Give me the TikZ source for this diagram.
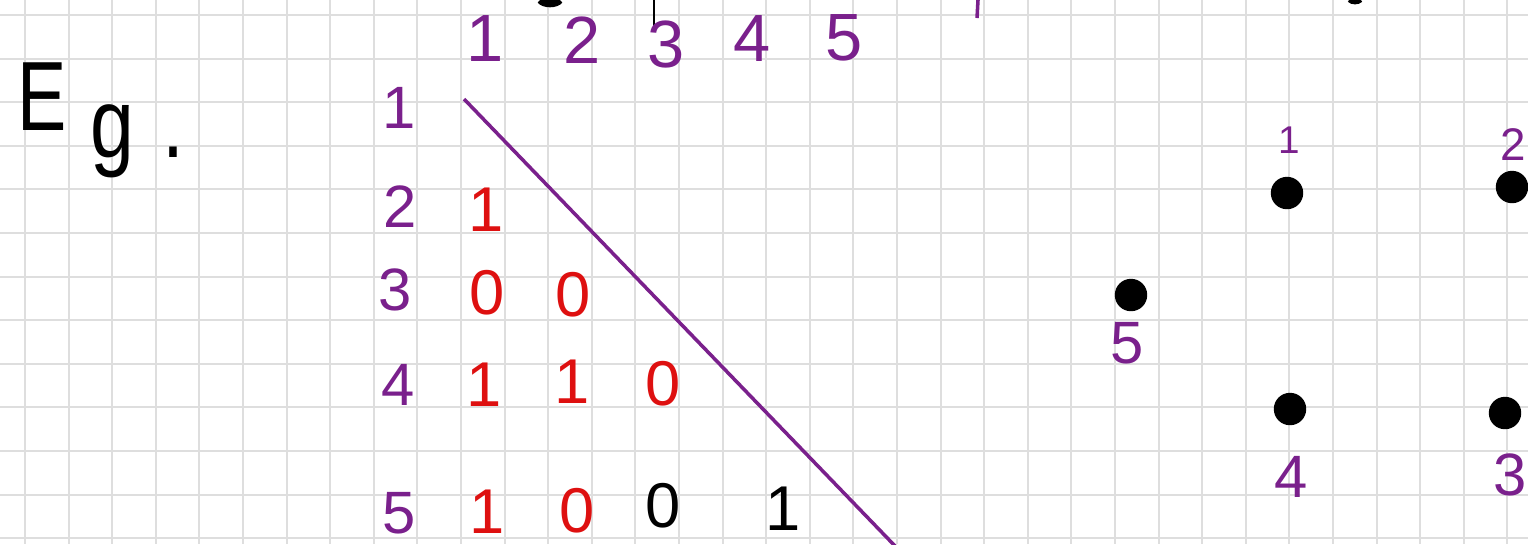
\documentclass[tikz,border=0pt]{standalone}
\usepackage{fontspec}
\setmainfont{Liberation Sans}
\usepackage{xcolor}
\usepackage{tikz}
\definecolor{gridgray}{RGB}{222,222,222}
\definecolor{numpurple}{RGB}{122,32,140}
\definecolor{entred}{RGB}{222,16,16}

\begin{document}
\begin{tikzpicture}[x=0.01cm, y=-0.01cm,
        gridl/.style={draw=gridgray, line width=0.6pt},
        num/.style={text=numpurple, inner sep=0pt, font=\fontsize{17}{20}\selectfont},
        hnum/.style={num, font=\fontsize{19}{22}\selectfont},
        snum/.style={num, font=\fontsize{11}{13}\selectfont},
        ent/.style={text=entred, inner sep=0pt, font=\fontsize{18}{21}\selectfont},
        bent/.style={ent, text=black},
        title/.style={anchor=base west, inner sep=0pt, font=\fontsize{28}{32}\selectfont},
        vtx/.style={circle, fill=black, draw=black, minimum size=0.31cm, inner sep=0pt},
        diag/.style={draw=numpurple, line width=1pt}
    ]
    \useasboundingbox (0,0) rectangle (1528,544);
    \fill[white] (0,0) rectangle (1528,544);

    % Grid paper
    \foreach \i in {0,...,34}
        \draw[gridl] (25+43.6*\i,0) -- (25+43.6*\i,544);
    \foreach \j in {0,...,12}
        \draw[gridl] (0,15+43.6*\j) -- (1528,15+43.6*\j);

    % Strokes cut off at the top edge
    \draw[black, line width=2pt] (540,0) .. controls (544,5) and (556,5) .. (560,0);
    \draw[black, line width=0.8pt] (654,0) -- (654,30);
    \draw[numpurple, line width=1pt] (978,0) -- (977,18);
    \draw[black, line width=1.2pt] (1349,0) .. controls (1352,3) and (1358,3) .. (1361,0);

    % Title
    \node[title, xscale=0.75] (eE) at (17,130) {E};
    \node[title, xscale=0.8] (eg) at (90,157) {g\kern10pt.};

    % Column headers
    \node[hnum] (c1) at (485,38) {1};
    \node[hnum] (c2) at (582,40) {2};
    \node[hnum] (c3) at (666,44) {3};
    \node[hnum] (c4) at (752,38) {4};
    \node[hnum] (c5) at (844,38) {5};

    % Row labels
    \node[num] (r1) at (399,108) {1};
    \node[num] (r2) at (400,207) {2};
    \node[num] (r3) at (395,290) {3};
    \node[num] (r4) at (398,385) {4};
    \node[num] (r5) at (399,513) {5};

    % Lower triangle
    \node[ent] (m21) at (486,210) {1};
    \node[ent] (m31) at (487,293) {0};
    \node[ent] (m32) at (573,295) {0};
    \node[ent] (m41) at (484,385) {1};
    \node[ent] (m42) at (572,382) {1};
    \node[ent] (m43) at (663,384) {0};
    \node[ent] (m51) at (487,512) {1};
    \node[ent] (m52) at (577,511) {0};
    \node[bent] (m53) at (663,506) {0};
    \node[bent] (m54) at (783,509) {1};

    % Diagonal
    \coordinate (dtop) at (464,99);
    \coordinate (dbot) at (896,547);
    \draw[diag] (dtop) -- (dbot);

    % Vertices
    \node[vtx] (v1) at (1287,193) {};
    \node[vtx] (v2) at (1512,187) {};
    \node[vtx] (v3) at (1505,413) {};
    \node[vtx] (v4) at (1290,409) {};
    \node[vtx] (v5) at (1131,295) {};

    % Vertex labels
    \node[snum] (l1) at (1289,140) {1};
    \node[snum, font=\fontsize{13}{15}\selectfont] (l2) at (1513,145) {2};
    \node[num] (l3) at (1510,475) {3};
    \node[num] (l4) at (1291,477) {4};
    \node[num] (l5) at (1127,343) {5};

\end{tikzpicture}
\end{document}
